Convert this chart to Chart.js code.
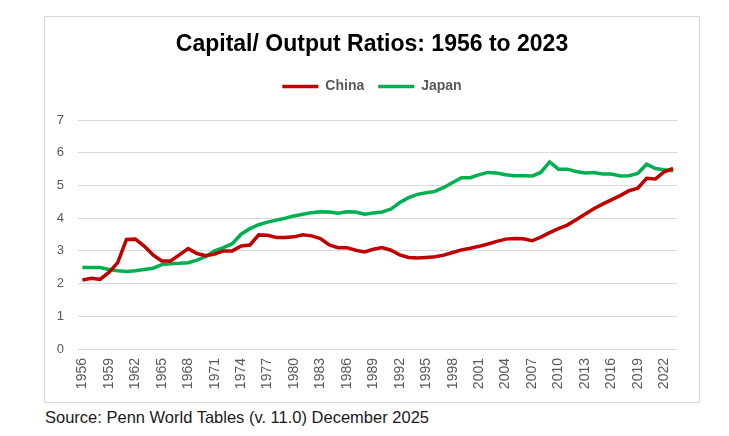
<!DOCTYPE html>
<html>
<head>
<meta charset="utf-8">
<script src="https://cdn.jsdelivr.net/npm/chart.js@4"></script>
<style>
  body { margin: 0; background: #fff; width: 729px; height: 436px; position: relative; overflow: hidden; }
  #box { position: absolute; left: 44px; top: 16px; width: 654px; height: 385px; border: 1px solid #d9d9d9; }
  #source { position: absolute; left: 45px; top: 408px; font: 16.5px "Liberation Sans", Arial, sans-serif; color: #1a1a1a; }
</style>
</head>
<body>
<div id="box"><canvas id="chart"></canvas></div>
<div id="source">Source: Penn World Tables (v. 11.0) December 2025</div>
<script>
const years = [];
for (let y = 1956; y <= 2023; y++) years.push(String(y));

const china = [
  2.11, 2.16, 2.13, 2.34, 2.64, 3.35, 3.36, 3.15, 2.88, 2.69,
  2.69, 2.88, 3.07, 2.92, 2.85, 2.90, 3.00, 3.00, 3.15, 3.18,
  3.49, 3.48, 3.41, 3.41, 3.43, 3.49, 3.46, 3.38, 3.18, 3.10,
  3.10, 3.02, 2.97, 3.05, 3.10, 3.02, 2.88, 2.80, 2.78, 2.80,
  2.82, 2.87, 2.95, 3.03, 3.08, 3.14, 3.21, 3.29, 3.36, 3.38,
  3.37, 3.31, 3.42, 3.56, 3.68, 3.79, 3.95, 4.12, 4.29, 4.43,
  4.56, 4.69, 4.84, 4.92, 5.22, 5.20, 5.42, 5.52
];

const japan = [
  2.49, 2.49, 2.49, 2.43, 2.39, 2.37, 2.39, 2.43, 2.47, 2.58,
  2.61, 2.62, 2.64, 2.72, 2.83, 3.00, 3.10, 3.22, 3.51, 3.68,
  3.80, 3.88, 3.94, 4.00, 4.07, 4.12, 4.17, 4.20, 4.19, 4.15,
  4.20, 4.19, 4.12, 4.16, 4.19, 4.28, 4.48, 4.63, 4.73, 4.78,
  4.82, 4.94, 5.09, 5.24, 5.24, 5.33, 5.40, 5.38, 5.33, 5.30,
  5.30, 5.29, 5.40, 5.72, 5.50, 5.50, 5.43, 5.38, 5.40, 5.35,
  5.35, 5.29, 5.30, 5.37, 5.65, 5.52, 5.48, 5.45
];

const yTicks = [0, 1, 2, 3, 4, 5, 6, 7];

// extra space under the legend, before the plot
const legendGap = {
  id: 'legendGap',
  beforeInit(chart) {
    const fit = chart.legend.fit;
    chart.legend.fit = function () {
      fit.bind(chart.legend)();
      this.height += 16.5;
    };
  }
};

const fontFamily = '"Liberation Sans", Arial, sans-serif';

new Chart(document.getElementById('chart'), {
  type: 'line',
  data: {
    labels: years,
    datasets: [
      { label: 'China', data: china, borderColor: '#c00000', backgroundColor: '#c00000', borderWidth: 3.5, pointRadius: 0, tension: 0 },
      { label: 'Japan', data: japan, borderColor: '#00b050', backgroundColor: '#00b050', borderWidth: 3.5, pointRadius: 0, tension: 0 }
    ]
  },
  options: {
    responsive: true,
    maintainAspectRatio: false,
    animation: false,
    layout: { padding: 0 },
    plugins: {
      title: {
        display: true,
        text: 'Capital/ Output Ratios: 1956 to 2023',
        color: '#000',
        font: { family: fontFamily, size: 23, weight: 'bold' },
        padding: { top: 14, bottom: 7 }
      },
      legend: {
        display: true,
        labels: {
          usePointStyle: true,
          pointStyle: 'line',
          pointStyleWidth: 36,
          color: '#595959',
          font: { family: fontFamily, size: 14, weight: 'bold' },
          padding: 14
        }
      },
      tooltip: { enabled: false }
    },
    scales: {
      x: {
        offset: true,
        grid: { display: false, drawTicks: false },
        border: { display: false },
        afterFit(scale) { scale.height = 53; },
        ticks: {
          autoSkip: false,
          maxRotation: 90,
          minRotation: 90,
          padding: 9,
          color: '#595959',
          font: { family: fontFamily, size: 14 },
          callback(value, index) {
            return index % 3 === 0 ? years[index] : '';
          }
        }
      },
      y: {
        min: 0,
        max: 7,
        afterFit(scale) { scale.width = 33; },
        afterBuildTicks(scale) { scale.ticks = yTicks.map(v => ({ value: v })); },
        grid: { color: '#d9d9d9', lineWidth: 1, drawTicks: false },
        border: { display: false },
        ticks: { padding: 14, color: '#595959', font: { family: fontFamily, size: 13 } }
      },
      // empty right margin so title and legend stay centred on the box
      yRight: {
        position: 'right',
        min: 0,
        max: 7,
        afterFit(scale) { scale.width = 18; },
        grid: { display: false, drawTicks: false },
        border: { display: false },
        ticks: { display: false }
      }
    }
  },
  plugins: [legendGap]
});
</script>
</body>
</html>
